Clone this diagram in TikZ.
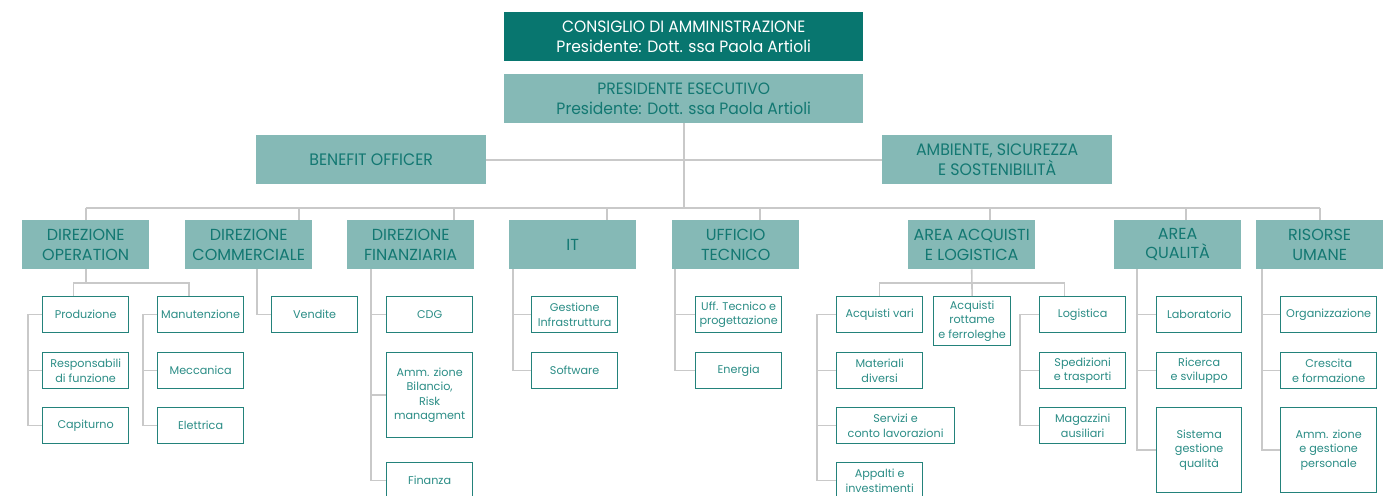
\documentclass[tikz,border=0pt]{standalone}
\usepackage{fontspec}
\setmainfont{Poppins}
\newfontfamily\narrowfont[FakeStretch=0.95]{Poppins}
\usetikzlibrary{calc}

\definecolor{tealdark}{HTML}{08766F}
\definecolor{teallight}{HTML}{85B9B6}
\definecolor{tealtext}{HTML}{137872}
\definecolor{subtext}{HTML}{2B8D86}
\definecolor{subedge}{HTML}{23827B}
\definecolor{wire}{HTML}{C9C9C9}

\tikzset{
  board/.style={anchor=north west, inner sep=0pt, align=center,
    minimum width=359pt, minimum height=49pt},
  topbox/.style={board, fill=tealdark, text=white,
    font=\narrowfont\fontsize{16.4}{19.5}\selectfont},
  execbox/.style={board, fill=teallight, text=tealtext,
    font=\narrowfont\fontsize{16.4}{19.5}\selectfont},
  staffbox/.style={board, fill=teallight, text=tealtext, minimum width=230pt,
    font=\narrowfont\fontsize{16.6}{19.5}\selectfont},
  headbox/.style={anchor=north west, inner sep=0pt, align=center,
    fill=teallight, text=tealtext, minimum width=127pt, minimum height=49pt,
    font=\fontsize{16}{19.5}\selectfont},
  unitbox/.style={anchor=north west, inner sep=0pt, align=center,
    draw=subedge, line width=1.3pt, fill=white, text=subtext,
    minimum width=86pt, minimum height=36pt,
    font=\fontsize{11.2}{14.5}\selectfont},
  wireline/.style={draw=wire, line width=1.6pt},
}

\begin{document}
\begin{tikzpicture}[x=1pt, y=-1pt]
\useasboundingbox (0,0) rectangle (1388,495);
\clip (0,0) rectangle (1388,495);

% --- governance ---
\node[topbox] (cda) at (504,12) {CONSIGLIO DI AMMINISTRAZIONE\\Presidente: Dott. ssa Paola Artioli};
\node[execbox] (pe) at (504,74) {PRESIDENTE ESECUTIVO\\Presidente: Dott. ssa Paola Artioli};
\node[staffbox] (bo) at (256,135) {BENEFIT OFFICER};
\node[staffbox] (as) at (882,135) {AMBIENTE, SICUREZZA\\E SOSTENIBILITÀ};

% --- directions ---
\node[headbox] (op) at (22,220)   {DIREZIONE\\OPERATION};
\node[headbox] (dc) at (185,220)  {DIREZIONE\\COMMERCIALE};
\node[headbox] (df) at (347,220)  {DIREZIONE\\FINANZIARIA};
\node[headbox] (it) at (509,220)  {IT};
\node[headbox] (ut) at (672,220)  {UFFICIO\\TECNICO};
\node[headbox] (aa) at (908,220)  {AREA ACQUISTI\\E LOGISTICA};
\node[headbox] (aq) at (1114,220) {AREA\\QUALITÀ};
\node[headbox] (ru) at (1256,220) {RISORSE\\UMANE};

% --- operation ---
\node[unitbox] (prod) at (42,296)  {Produzione};
\node[unitbox] (resp) at (42,352)  {Responsabili\\di funzione};
\node[unitbox] (capi) at (42,407)  {Capiturno};
\node[unitbox] (manu) at (157,296) {Manutenzione};
\node[unitbox] (mecc) at (157,352) {Meccanica};
\node[unitbox] (elet) at (157,407) {Elettrica};

% --- commerciale ---
\node[unitbox] (vend) at (271,296) {Vendite};

% --- finanziaria ---
\node[unitbox] (cdg) at (386,296) {CDG};
\node[unitbox, minimum height=85pt] (bil) at (386,352) {Amm. zione\\Bilancio,\\Risk\\managment};
\node[unitbox] (fin) at (386,462) {Finanza};

% --- IT ---
\node[unitbox] (infra) at (531,296) {Gestione\\Infrastruttura};
\node[unitbox] (soft)  at (531,352) {Software};

% --- ufficio tecnico ---
\node[unitbox] (prog) at (695,296) {Uff. Tecnico e\\progettazione};
\node[unitbox] (ener) at (695,352) {Energia};

% --- acquisti e logistica ---
\node[unitbox] (avar) at (836,296) {Acquisti vari};
\node[unitbox] (mdiv) at (836,352) {Materiali\\diversi};
\node[unitbox, minimum width=118pt] (serv) at (836,407) {Servizi e\\conto lavorazioni};
\node[unitbox] (appa) at (836,462) {Appalti e\\investimenti};
\node[unitbox, minimum width=77pt, minimum height=49pt] (rott) at (933,296) {Acquisti\\rottame\\e ferroleghe};
\node[unitbox] (logi) at (1039,296) {Logistica};
\node[unitbox] (sped) at (1039,352) {Spedizioni\\e trasporti};
\node[unitbox] (maga) at (1039,407) {Magazzini\\ausiliari};

% --- qualita ---
\node[unitbox, minimum width=85pt] (lab)  at (1156,296) {Laboratorio};
\node[unitbox, minimum width=85pt] (ric)  at (1156,352) {Ricerca\\e sviluppo};
\node[unitbox, minimum width=85pt, minimum height=85pt] (sgq) at (1156,407) {Sistema\\gestione\\qualità};

% --- risorse umane ---
\node[unitbox, minimum width=96pt] (org)  at (1280,296) {Organizzazione};
\node[unitbox, minimum width=96pt] (cre)  at (1280,352) {Crescita\\e formazione};
\node[unitbox, minimum width=96pt, minimum height=85pt] (pers) at (1280,407) {Amm. zione\\e gestione\\personale};

% ===== connectors =====
\begin{scope}[wireline]
% top level
\coordinate (busL) at (op.north |- 0,208);
\coordinate (busR) at (ru.north |- 0,208);
\draw (pe.south) -- (pe.south |- busL);
\draw (bo.east) -- (as.west);
\draw (busL) -- (busR);

% drops from the bus
\draw (op.north) -- (busL);
\draw ([xshift=50.5pt]dc.north) -- ([xshift=50.5pt]dc.north |- busL);
\draw ([xshift=43pt]df.north) -- ([xshift=43pt]df.north |- busL);
\draw ([xshift=34.5pt]it.north) -- ([xshift=34.5pt]it.north |- busL);
\draw ([xshift=24.5pt]ut.north) -- ([xshift=24.5pt]ut.north |- busL);
\draw ([xshift=18pt]aa.north) -- ([xshift=18pt]aa.north |- busL);
\draw ([xshift=8.5pt]aq.north) -- ([xshift=8.5pt]aq.north |- busL);
\draw (ru.north) -- (busR);

% operation
\coordinate (opJ) at (op.south |- 0,283);
\draw (op.south) -- (opJ);
\draw ([xshift=-12pt]prod.north) -- ([xshift=-12pt]prod.north |- opJ)
   -- ([xshift=-11.5pt]manu.north |- opJ) -- ([xshift=-11.5pt]manu.north);
\coordinate (prodS) at ([xshift=-14pt]prod.west);
\draw (prod.west) -- (prodS) |- (capi.west);
\draw (resp.west) -- (resp.west -| prodS);
\coordinate (manuS) at ([xshift=-14pt]manu.west);
\draw (manu.west) -- (manuS) |- (elet.west);
\draw (mecc.west) -- (mecc.west -| manuS);

% commerciale
\coordinate (dcS) at ([xshift=-14pt]vend.west);
\draw (dcS |- dc.south) |- (vend.west);

% finanziaria
\coordinate (dfS) at ([xshift=-15pt]cdg.west);
\draw (dfS |- df.south) |- (fin.west);
\draw (cdg.west) -- (dfS);
\draw (bil.west) -- (bil.west -| dfS);

% IT
\coordinate (itS) at ([xshift=-18pt]infra.west);
\draw (itS |- it.south) |- (soft.west);
\draw (infra.west) -- (itS);

% ufficio tecnico
\coordinate (utS) at ([xshift=-20pt]prog.west);
\draw (utS |- ut.south) |- (ener.west);
\draw (prog.west) -- (utS);

% acquisti e logistica
\coordinate (aaJ) at (aa.south |- 0,283);
\draw (aa.south) -- (rott.north);
\draw (avar.north) -- (avar.north |- aaJ) -- ([xshift=-18pt]logi.north |- aaJ) -- ([xshift=-18pt]logi.north);
\coordinate (avS) at ([xshift=-19pt]avar.west);
\draw (avar.west) -- (avS) |- (appa.west);
\draw (mdiv.west) -- (mdiv.west -| avS);
\draw (serv.west) -- (serv.west -| avS);
\coordinate (lgS) at ([xshift=-19pt]logi.west);
\draw (logi.west) -- (lgS) |- (maga.west);
\draw (sped.west) -- (sped.west -| lgS);

% qualita
\coordinate (aqS) at ([xshift=-19pt]lab.west);
\draw (aqS |- aq.south) |- (sgq.west);
\draw (lab.west) -- (aqS);
\draw (ric.west) -- (ric.west -| aqS);

% risorse umane
\coordinate (ruS) at ([xshift=-18pt]org.west);
\draw (ruS |- ru.south) |- (pers.west);
\draw (org.west) -- (ruS);
\draw (cre.west) -- (cre.west -| ruS);
\end{scope}
\end{tikzpicture}
\end{document}
